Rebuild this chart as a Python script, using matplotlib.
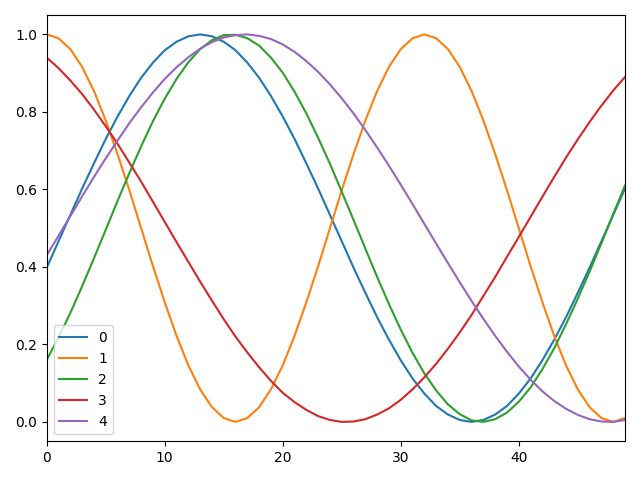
import matplotlib
matplotlib.use("Agg")
import matplotlib.pyplot as plt

# values, x = 0..49
x = list(range(50))

s0 = [0.398, 0.466, 0.534, 0.602, 0.667, 0.730, 0.788, 0.841, 0.888, 0.927,
      0.959, 0.981, 0.995, 1.000, 0.995, 0.981, 0.959, 0.927, 0.888, 0.841,
      0.788, 0.730, 0.667, 0.602, 0.534, 0.466, 0.398, 0.333, 0.270, 0.212,
      0.159, 0.112, 0.073, 0.041, 0.019, 0.005, 0.000, 0.005, 0.019, 0.041,
      0.073, 0.112, 0.159, 0.212, 0.270, 0.333, 0.398, 0.466, 0.534, 0.602]

s1 = [1.000, 0.990, 0.962, 0.916, 0.854, 0.778, 0.691, 0.598, 0.500, 0.402,
      0.309, 0.222, 0.146, 0.084, 0.038, 0.010, 0.000, 0.010, 0.038, 0.084,
      0.146, 0.222, 0.309, 0.402, 0.500, 0.598, 0.691, 0.778, 0.854, 0.916,
      0.962, 0.990, 1.000, 0.990, 0.962, 0.916, 0.854, 0.778, 0.691, 0.598,
      0.500, 0.402, 0.309, 0.222, 0.146, 0.084, 0.038, 0.010, 0.000, 0.010]

s2 = [0.160, 0.218, 0.281, 0.350, 0.422, 0.496, 0.570, 0.642, 0.711, 0.776,
      0.834, 0.885, 0.928, 0.962, 0.985, 0.998, 0.999, 0.990, 0.971, 0.940,
      0.901, 0.852, 0.796, 0.733, 0.666, 0.594, 0.521, 0.447, 0.374, 0.304,
      0.238, 0.178, 0.125, 0.081, 0.045, 0.020, 0.004, 0.000, 0.007, 0.024,
      0.052, 0.089, 0.136, 0.190, 0.252, 0.318, 0.388, 0.461, 0.536, 0.610]

s3 = [0.940, 0.913, 0.881, 0.846, 0.806, 0.763, 0.718, 0.669, 0.620, 0.568,
      0.516, 0.464, 0.413, 0.362, 0.313, 0.265, 0.220, 0.179, 0.141, 0.106,
      0.075, 0.051, 0.031, 0.015, 0.005, 0.000, 0.001, 0.007, 0.019, 0.035,
      0.057, 0.084, 0.115, 0.150, 0.189, 0.231, 0.276, 0.325, 0.374, 0.426,
      0.477, 0.529, 0.581, 0.632, 0.682, 0.729, 0.774, 0.816, 0.855, 0.890]

s4 = [0.430, 0.480, 0.531, 0.582, 0.632, 0.680, 0.726, 0.771, 0.812, 0.850,
      0.885, 0.915, 0.941, 0.963, 0.980, 0.992, 0.998, 1.000, 0.996, 0.988,
      0.974, 0.955, 0.931, 0.903, 0.871, 0.835, 0.796, 0.753, 0.708, 0.661,
      0.612, 0.562, 0.511, 0.460, 0.410, 0.360, 0.312, 0.266, 0.222, 0.181,
      0.143, 0.109, 0.079, 0.054, 0.034, 0.018, 0.007, 0.001, 0.000, 0.005]

series = {"0": s0, "1": s1, "2": s2, "3": s3, "4": s4}

fig, ax = plt.subplots(figsize=(6.4, 4.8), dpi=100)
for name, ys in series.items():
    ax.plot(x, ys, label=name)
ax.set_xlim(x[0], x[-1])
ax.legend(loc="lower left")
fig.tight_layout()
fig.savefig("out.png")
